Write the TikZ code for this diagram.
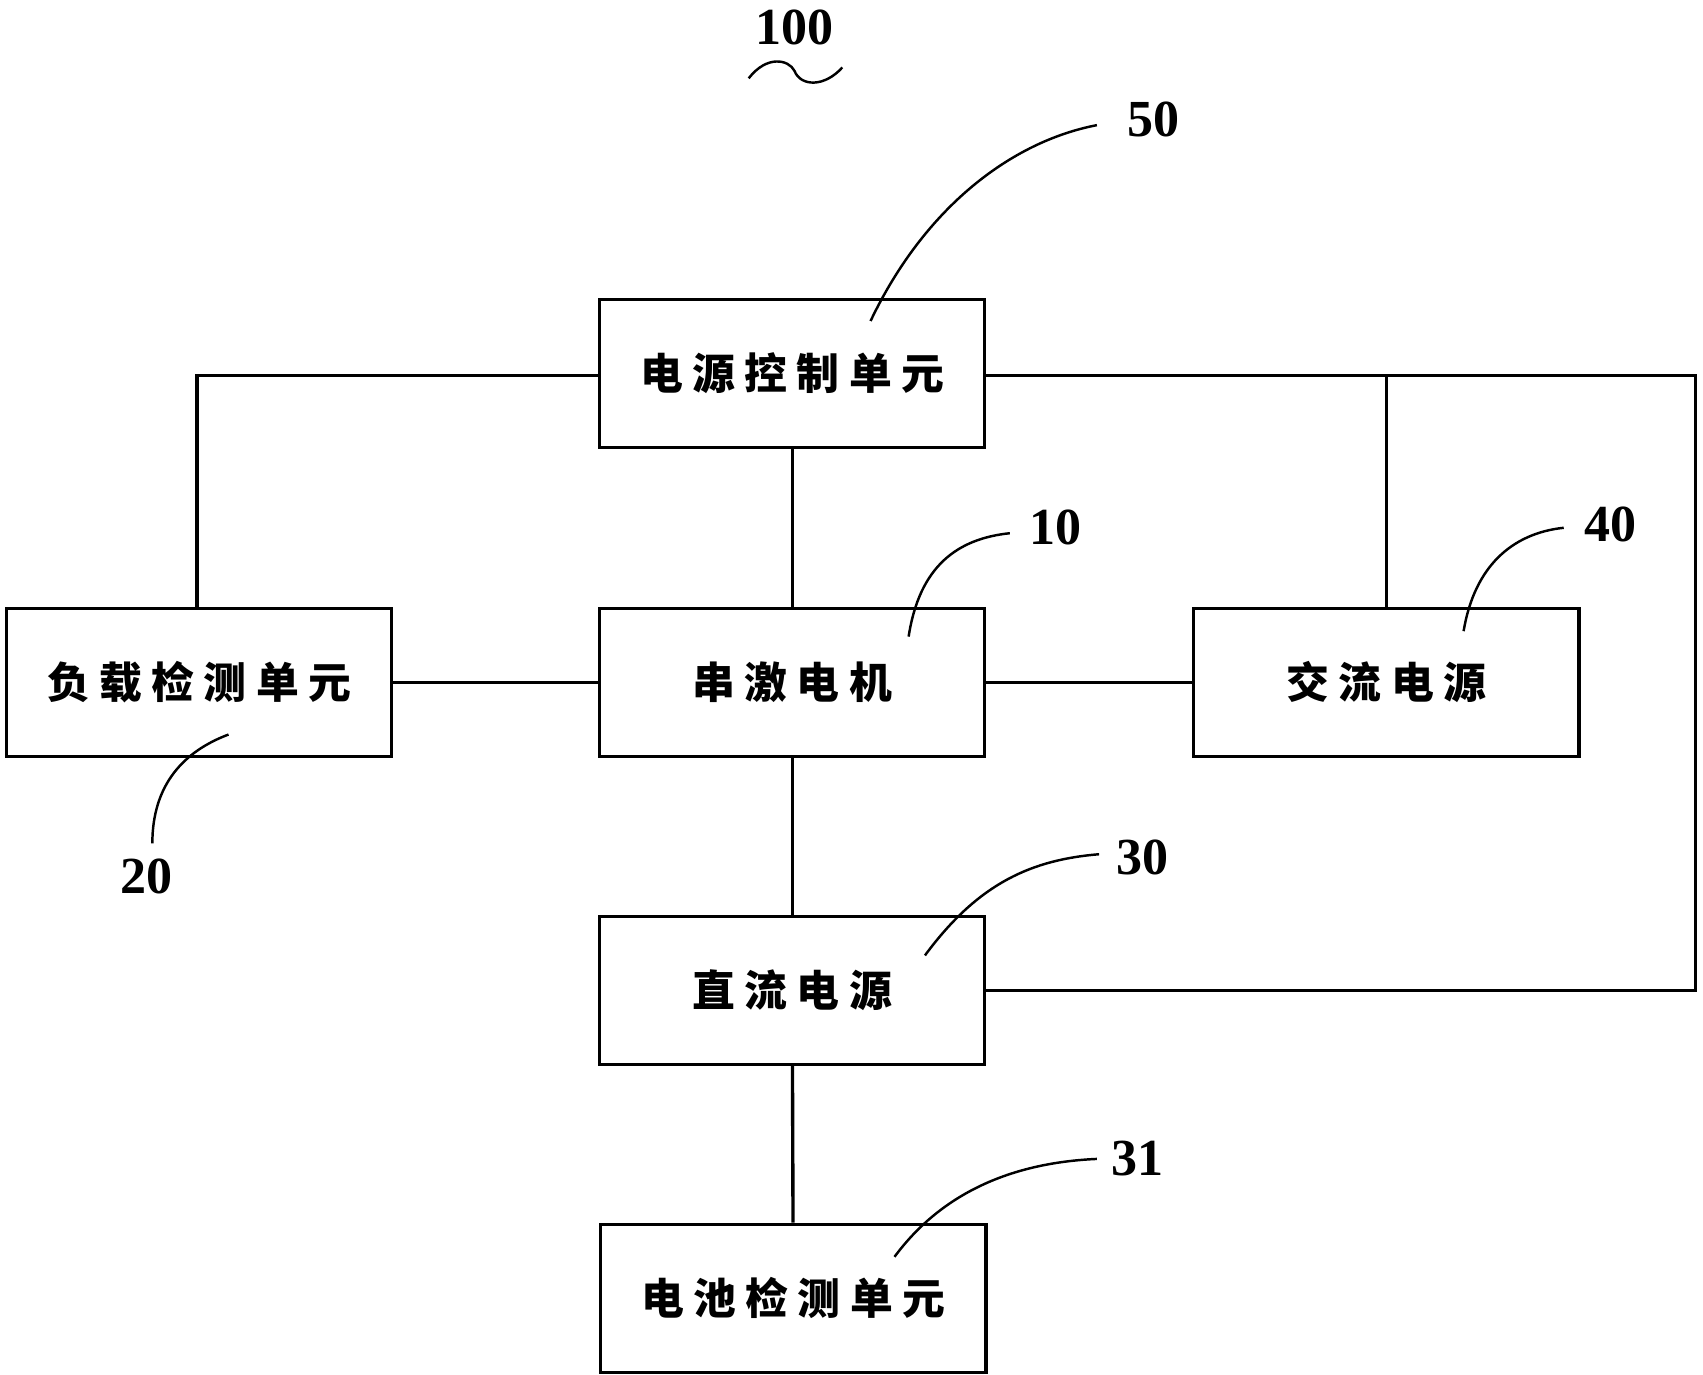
\documentclass[tikz,border=0pt]{standalone}
\usepackage{fontspec}
\setmainfont{Liberation Serif}
\newfontfamily\cjk[LetterSpace=22]{Noto Sans CJK SC}
\begin{document}
\begin{tikzpicture}[x=0.025cm,y=-0.025cm,
  box/.style={draw,line width=2.2pt,minimum width=354*0.025cm,minimum height=136*0.025cm,font=\cjk\bfseries\fontsize{28}{30}\selectfont},
  num/.style={font=\bfseries\fontsize{34}{36}\selectfont},
  lead/.style={line width=1.6pt},
  wire/.style={line width=2.2pt}]
\useasboundingbox (0,0) rectangle (1565,1263);
\node[box] (p50) at (728,343) {电源控制单元};
\node[box] (p20) at (183,627) {负载检测单元};
\node[box] (p10) at (728,627) {串激电机};
\node[box] (p40) at (1274,627) {交流电源};
\node[box] (p30) at (728,910) {直流电源};
\node[box] (p31) at (729,1193) {电池检测单元};
\coordinate (tl) at (181,345);
\coordinate (tr) at (1558,345);
\coordinate (br) at (1558,910);
\coordinate (br40) at (1274,345);
\draw[wire] (p50.west |- tl) -- (tl) -- (tl |- p20.north);
\draw[wire] (p50.east |- tr) -- (tr) -- (br) -- (p30.east |- br);
\draw[wire] (br40) -- (br40 |- p40.north);
\draw[wire] (p50) -- (p10);
\draw[wire] (p10) -- (p30);
\draw[wire] (p30) -- (p31);
\draw[wire] (p20) -- (p10);
\draw[wire] (p10) -- (p40);
\node[num] (n100) at (730,25) {100};
\coordinate (t1) at (688,72);
\coordinate (t2) at (774,62);
\draw[lead] (t1) .. controls (705,50) and (725,55) .. (730,65) .. controls (736,80) and (758,80) .. (t2);
\node[num] (n50) at (1060,110) {50};
\node[num] (n10) at (970,485) {10};
\node[num] (n40) at (1480,482) {40};
\node[num] (n20) at (135,805) {20};
\node[num] (n30) at (1050,788) {30};
\node[num] (n31) at (1045,1065) {31};
\coordinate (a50) at (800,295);
\coordinate (a10) at (835,585);
\coordinate (a40) at (1345,580);
\coordinate (a20) at (210,675);
\coordinate (a30) at (850,878);
\coordinate (a31) at (822,1155);
\draw[lead] (a50) .. controls (850,190) and (930,130) .. (1008,115);
\draw[lead] (a10) .. controls (845,520) and (880,495) .. (928,490);
\draw[lead] (a40) .. controls (1355,520) and (1390,490) .. (1437,485);
\draw[lead] (a20) .. controls (170,690) and (140,720) .. (140,775);
\draw[lead] (a30) .. controls (900,810) and (950,790) .. (1010,785);
\draw[lead] (a31) .. controls (870,1090) and (940,1068) .. (1008,1065);
\end{tikzpicture}
\end{document}
